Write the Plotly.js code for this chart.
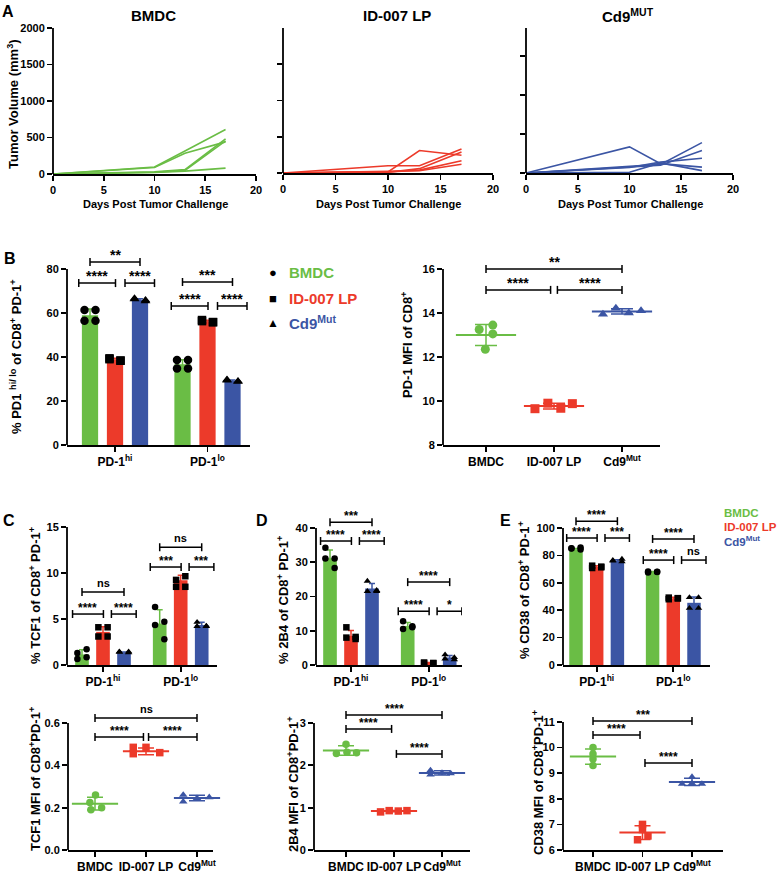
<!DOCTYPE html>
<html><head><meta charset="utf-8">
<script src="https://cdn.plot.ly/plotly-3.0.1.min.js"></script>
<style>html,body{margin:0;padding:0;background:#fff}#chart{width:780px;height:874px}</style>
</head><body><div id="chart"></div>
<script>
// ================= DATA =================
const tumorDays = [0, 10, 13, 17];
const tumorBMDC = [[0,95,316,610],[0,90,285,440],[0,30,60,480],[0,25,50,455],[0,20,40,80]];
const tumorLP   = [[0,15,310,245],[0,100,100,330],[0,10,60,290],[0,15,40,170],[0,20,30,120]];
const tumorCd9  = [[0,335,120,75],[0,90,110,390],[0,80,100,290],[0,70,140,190],[0,10,130,30]];

const subsetLabels = ['PD-1<sup>hi</sup>', 'PD-1<sup>lo</sup>'];
const armLabels = ['BMDC', 'ID-007 LP', 'Cd9<sup>Mut</sup>'];

// B left: % PD1 hi/lo of CD8+ PD-1+   (per arm: [hi, lo])
const pd1Mean_BMDC = [59.0, 36.7];
const pd1SD_BMDC   = [2.8, 2.1];
const pd1Pts_BMDC  = [[61.4,61.4,56.5,56.5],[38.6,38.6,34.8,34.8]];
const pd1Mean_LP   = [38.8, 56.2];
const pd1SD_LP     = [0.6, 0.5];
const pd1Pts_LP    = [[39.4,38.4,39.0,38.3],[56.8,55.8,56.3,55.9]];
const pd1Mean_Cd9  = [66.0, 29.2];
const pd1SD_Cd9    = [0.5, 0.4];
const pd1Pts_Cd9   = [[66.6,65.8,66.3,65.4],[29.7,29.0,29.4,28.8]];
const pd1Sig = ['****','****','**','****','****','***'];

// B right: PD-1 MFI of CD8+
const pd1Mfi_BMDC = [13.25, 13.45, 13.05, 12.35];
const pd1Mfi_LP   = [9.65, 9.90, 9.67, 9.88];
const pd1Mfi_Cd9  = [13.94, 14.22, 14.00, 14.10];
const pd1MfiMean  = [13.0, 9.77, 14.07];
const pd1MfiSD    = [0.48, 0.13, 0.12];
const pd1MfiSig   = ['****','****','**'];

// C top: % TCF1
const tcf1Mean_BMDC = [1.15, 4.5];
const tcf1SD_BMDC   = [0.5, 1.5];
const tcf1Pts_BMDC  = [[1.3,1.7,0.65,0.85],[6.3,4.7,4.35,2.8]];
const tcf1Mean_LP   = [3.6, 9.2];
const tcf1SD_LP     = [0.55, 0.55];
const tcf1Pts_LP    = [[4.1,4.1,3.1,3.1],[9.25,9.65,8.5,8.5]];
const tcf1Mean_Cd9  = [1.3, 4.35];
const tcf1SD_Cd9    = [0.12, 0.3];
const tcf1Pts_Cd9   = [[1.45,1.45,1.4,1.35],[4.65,4.2,4.2,4.25]];
const tcf1Sig = ['****','****','ns','***','***','ns'];

// D top: % 2B4
const twoB4Mean_BMDC = [31.2, 11.4];
const twoB4SD_BMDC   = [2.4, 1.0];
const twoB4Pts_BMDC  = [[34.2,31.1,31.1,28.3],[12.8,11.3,10.5,11.0]];
const twoB4Mean_LP   = [8.5, 0.6];
const twoB4SD_LP     = [1.6, 0.1];
const twoB4Pts_LP    = [[11.0,8.2,8.0,7.6],[0.7,0.6,0.6,0.5]];
const twoB4Mean_Cd9  = [22.3, 2.2];
const twoB4SD_Cd9    = [1.5, 0.6];
const twoB4Pts_Cd9   = [[24.5,21.8,21.5,21.5],[3.0,2.2,1.8,1.6]];
const twoB4Sig = ['****','****','***','****','*','****'];

// E top: % CD38
const cd38Mean_BMDC = [84.2, 67.8];
const cd38SD_BMDC   = [0.8, 0.4];
const cd38Pts_BMDC  = [[85.0,85.8,85.2,84.3],[68.2,67.8,67.6,68.0]];
const cd38Mean_LP   = [71.5, 48.6];
const cd38SD_LP     = [1.0, 0.8];
const cd38Pts_LP    = [[72.5,71.3,70.8,71.8],[49.2,48.8,48.0,48.6]];
const cd38Mean_Cd9  = [76.1, 45.4];
const cd38SD_Cd9    = [0.8, 4.3];
const cd38Pts_Cd9   = [[76.0,77.3,76.5,75.5],[49.3,49.3,41.5,41.5]];
const cd38Sig = ['****','***','****','****','ns','****'];

// C bottom: TCF1 MFI
const tcf1Mfi_BMDC = [0.26, 0.225, 0.20, 0.19];
const tcf1Mfi_LP   = [0.485, 0.485, 0.455, 0.46];
const tcf1Mfi_Cd9  = [0.26, 0.228, 0.245, 0.249];
const tcf1MfiMean  = [0.219, 0.466, 0.246];
const tcf1MfiSD    = [0.03, 0.016, 0.013];
const tcf1MfiSig   = ['****','****','ns'];

// D bottom: 2B4 MFI
const twoB4Mfi_BMDC = [2.50, 2.28, 2.31, 2.30];
const twoB4Mfi_LP   = [0.90, 0.93, 0.92, 0.93];
const twoB4Mfi_Cd9  = [1.88, 1.78, 1.82, 1.81];
const twoB4MfiMean  = [2.35, 0.92, 1.82];
const twoB4MfiSD    = [0.11, 0.015, 0.05];
const twoB4MfiSig   = ['****','****','****'];

// E bottom: CD38 MFI
const cd38Mfi_BMDC = [10.0, 9.75, 9.55, 9.3];
const cd38Mfi_LP   = [7.0, 6.8, 6.55, 6.4];
const cd38Mfi_Cd9  = [8.85, 8.58, 8.6, 8.58];
const cd38MfiMean  = [9.65, 6.68, 8.66];
const cd38MfiSD    = [0.3, 0.27, 0.14];
const cd38MfiSig   = ['****','****','***'];

// ================= PRESENTATION =================
const W = 780, H = 874;
const GREEN = '#6abd45', RED = '#ec3a2a', BLUE = '#3b55a4';
const ARM_COLORS = [GREEN, RED, BLUE];
const ARM_SYMBOLS = ['circle', 'square', 'triangle-up'];
const FONT = 'Liberation Sans, Arial, Helvetica, sans-serif';
const GROUP_GAP = 3.7;

const traces = [];
const layout = {
  width: W, height: H, margin: {l:0, r:0, t:0, b:0},
  paper_bgcolor: '#fff', plot_bgcolor: 'rgba(0,0,0,0)',
  showlegend: false, barmode: 'overlay',
  font: {family: FONT, color: '#000'},
  shapes: [], annotations: []
};

const panels = {
  a1:   {n:1,  L:53,  R:256, B:174, T:28,  yr:[0,2000], ytv:[0,500,1000,1500,2000], ylab:true},
  a2:   {n:2,  L:283, R:493, B:173, T:28,  yr:[0,2000], ytv:[0,500,1000,1500], ylab:false},
  a3:   {n:3,  L:526, R:733, B:173, T:28,  yr:[0,1860], ytv:[0,500,1000,1500], ylab:false},
  bBar: {n:4,  L:67,  R:250, B:445, T:269, yr:[0,80],  ytv:[0,20,40,60,80], pad:25, s0:90,  sp:25},
  bDot: {n:5,  L:443, R:660, B:445, T:269, yr:[8,16],  ytv:[8,10,12,14,16], pad:12, s0:486, sp:68},
  cBar: {n:6,  L:67,  R:217, B:665, T:527, yr:[0,15],  ytv:[0,5,10,15], pad:10, s0:82,  sp:21},
  dBar: {n:7,  L:316, R:462, B:665, T:528, yr:[0,40],  ytv:[0,10,20,30,40], pad:14, s0:330, sp:21},
  eBar: {n:8,  L:563, R:710, B:665, T:528, yr:[0,100], ytv:[0,20,40,60,80,100], pad:14, s0:576, sp:20.7},
  cDot: {n:9,  L:68,  R:213, B:850, T:723, yr:[0,0.6], ytv:[0,0.2,0.4,0.6], ytt:['0.0','0.2','0.4','0.6'], pad:12, s0:95, sp:51},
  dDot: {n:10, L:314, R:470, B:850, T:723, yr:[0,3],   ytv:[0,1,2,3], pad:14, s0:346, sp:48},
  eDot: {n:11, L:563, R:723, B:850, T:722, yr:[6,11],  ytv:[6,7,8,9,10,11], pad:8, s0:593, sp:49.5}
};

function sfx(n){ return n === 1 ? '' : String(n); }

function setupPanel(p, xr, xextra){
  const s = sfx(p.n);
  const pad = p.pad || 0;
  const yTop = p.yr[1] + pad * (p.yr[1] - p.yr[0]) / (p.B - p.T);
  const tick = {ticks:'outside', ticklen:5, tickwidth:1.8, tickcolor:'#000', showgrid:false, zeroline:false, fixedrange:true};
  layout['xaxis' + s] = Object.assign({domain:[p.L/W, p.R/W], range:xr, anchor:'y' + s, tickangle:0,
    showline:true, linewidth:1.8, linecolor:'#000', tickfont:{size:11, weight:'bold', family:FONT}}, tick, xextra);
  const ya = Object.assign({domain:[1 - p.B/H, 1 - (p.T - pad)/H], range:[p.yr[0], yTop], anchor:'x' + s,
    showline:false, tickvals:p.ytv, tickfont:{size:11, weight:'bold', family:FONT}}, tick);
  if (p.ytt) ya.ticktext = p.ytt;
  if (p.ylab === false) ya.showticklabels = false;
  layout['yaxis' + s] = ya;
  layout.shapes.push({type:'line', xref:'x' + s + ' domain', yref:'y' + s, x0:0, x1:0,
    y0:p.yr[0], y1:p.yr[1], line:{color:'#000', width:1.8}});
}

function bracket(p, x0, x1, y, label, fs){
  const s = sfx(p.n), xr = 'x' + s, yr = 'y' + s;
  const ln = {color:'#000', width:1.5};
  layout.shapes.push({type:'line', xref:xr, yref:yr, x0:x0, x1:x1, y0:y, y1:y, line:ln});
  [x0, x1].forEach(x => layout.shapes.push({type:'line', xref:xr, yref:yr, x0:x, x1:x,
    ysizemode:'pixel', yanchor:y, y0:-4, y1:4, line:ln}));
  layout.annotations.push({xref:xr, yref:yr, x:(x0 + x1)/2, y:y, text:label, showarrow:false,
    yanchor:'bottom', yshift: label === 'ns' ? 1 : -3, font:{size: label === 'ns' ? fs - 1 : fs, weight:'bold', family:FONT}});
}

// ---- A: tumor growth ----
function addTumor(p, series, color){
  setupPanel(p, [0, 20], {tickvals:[0,5,10,15,20]});
  const s = sfx(p.n);
  series.forEach(vals => traces.push({type:'scatter', mode:'lines', x:tumorDays, y:vals,
    xaxis:'x' + s, yaxis:'y' + s, cliponaxis:false, line:{color:color, width:1.6}}));
}
addTumor(panels.a1, tumorBMDC, GREEN);
addTumor(panels.a2, tumorLP, RED);
addTumor(panels.a3, tumorCd9, BLUE);

// ---- Bar panels ----
const BAR_JIT = [-0.22, 0.22, -0.22, 0.22];
function addBarPanel(p, means, sds, pts, sig, levels, msize, sfs){
  const xr = [(p.L - p.s0)/p.sp, (p.R - p.s0)/p.sp];
  setupPanel(p, xr, {tickvals:[1, GROUP_GAP + 1], ticktext:subsetLabels, tickfont:{size:12, weight:'bold', family:FONT}});
  const s = sfx(p.n);
  means.forEach((m, a) => {
    traces.push({type:'bar', x:m.map((_, g) => g*GROUP_GAP + a), y:m, width:0.65,
      xaxis:'x' + s, yaxis:'y' + s, marker:{color:ARM_COLORS[a], line:{width:0}},
      error_y:{type:'data', array:sds[a], visible:true, color:ARM_COLORS[a], thickness:1.5, width:3}});
  });
  pts.forEach((byGroup, a) => {
    const xs = [], ys = [];
    byGroup.forEach((vals, g) => vals.forEach((v, j) => { xs.push(g*GROUP_GAP + a + BAR_JIT[j]); ys.push(v); }));
    traces.push({type:'scatter', mode:'markers', x:xs, y:ys, xaxis:'x' + s, yaxis:'y' + s,
      cliponaxis:false, marker:{symbol:ARM_SYMBOLS[a], size:msize, color:'#000'}});
  });
  levels.forEach((lv, g) => {
    const b = g*GROUP_GAP;
    bracket(p, b - 0.45, b + 1.02, lv[0], sig[g*3], sfs);
    bracket(p, b + 1.4, b + 2.58, lv[0], sig[g*3 + 1], sfs);
    bracket(p, b, b + 2, lv[1], sig[g*3 + 2], sfs);
  });
}

addBarPanel(panels.bBar, [pd1Mean_BMDC, pd1Mean_LP, pd1Mean_Cd9], [pd1SD_BMDC, pd1SD_LP, pd1SD_Cd9],
  [pd1Pts_BMDC, pd1Pts_LP, pd1Pts_Cd9], pd1Sig, [[73.6, 83.2], [63.2, 74.1]], 8.5, 14);
addBarPanel(panels.cBar, [tcf1Mean_BMDC, tcf1Mean_LP, tcf1Mean_Cd9], [tcf1SD_BMDC, tcf1SD_LP, tcf1SD_Cd9],
  [tcf1Pts_BMDC, tcf1Pts_LP, tcf1Pts_Cd9], tcf1Sig, [[5.54, 7.93], [10.65, 12.8]], 6.5, 12);
addBarPanel(panels.dBar, [twoB4Mean_BMDC, twoB4Mean_LP, twoB4Mean_Cd9], [twoB4SD_BMDC, twoB4SD_LP, twoB4SD_Cd9],
  [twoB4Pts_BMDC, twoB4Pts_LP, twoB4Pts_Cd9], twoB4Sig, [[36.2, 41.7], [15.7, 24.2]], 6.5, 12);
addBarPanel(panels.eBar, [cd38Mean_BMDC, cd38Mean_LP, cd38Mean_Cd9], [cd38SD_BMDC, cd38SD_LP, cd38SD_Cd9],
  [cd38Pts_BMDC, cd38Pts_LP, cd38Pts_Cd9], cd38Sig, [[92.7, 105], [76.6, 92]], 6.5, 12);

// ---- Dot panels ----
function addDotPanel(p, pts, means, sds, sig, lv, jit, msize, meanLen, capW, sfs){
  const xr = [(p.L - p.s0)/p.sp, (p.R - p.s0)/p.sp];
  setupPanel(p, xr, {tickvals:[0,1,2], ticktext:armLabels, tickfont:{size:12, weight:'bold', family:FONT}});
  const s = sfx(p.n);
  pts.forEach((vals, a) => {
    traces.push({type:'scatter', mode:'markers', x:[a], y:[means[a]], xaxis:'x' + s, yaxis:'y' + s, cliponaxis:false,
      marker:{symbol:'line-ew', size:meanLen, color:ARM_COLORS[a], line:{width:2, color:ARM_COLORS[a]}},
      error_y:{type:'data', array:[sds[a]], visible:true, color:ARM_COLORS[a], thickness:1.5, width:capW}});
    traces.push({type:'scatter', mode:'markers', x:vals.map((_, j) => a + jit[a][j]), y:vals,
      xaxis:'x' + s, yaxis:'y' + s, cliponaxis:false,
      marker:{symbol:ARM_SYMBOLS[a], size:msize, color:ARM_COLORS[a]}});
  });
  bracket(p, 0, 0.95, lv[0], sig[0], sfs);
  bracket(p, 1.05, 2, lv[1], sig[1], sfs);
  bracket(p, 0, 2, lv[2], sig[2], sfs);
}

addDotPanel(panels.bDot, [pd1Mfi_BMDC, pd1Mfi_LP, pd1Mfi_Cd9], pd1MfiMean, pd1MfiSD, pd1MfiSig,
  [15.05, 15.05, 16.0], [[-0.1,0.1,0.1,-0.01],[-0.28,-0.09,0.1,0.27],[-0.28,-0.09,0.1,0.28]], 9, 43, 11, 14);
addDotPanel(panels.cDot, [tcf1Mfi_BMDC, tcf1Mfi_LP, tcf1Mfi_Cd9], tcf1MfiMean, tcf1MfiSD, tcf1MfiSig,
  [0.534, 0.534, 0.624], [[0.01,-0.1,0.13,-0.08],[-0.25,0,-0.25,0.27],[-0.27,-0.27,0,0.24]], 7.5, 33, 8, 12);
addDotPanel(panels.dDot, [twoB4Mfi_BMDC, twoB4Mfi_LP, twoB4Mfi_Cd9], twoB4MfiMean, twoB4MfiSD, twoB4MfiSig,
  [2.86, 2.27, 3.19], [[0,-0.2,0.02,0.22],[-0.28,-0.1,0.09,0.27],[-0.24,-0.24,0,0.18]], 7.5, 33, 8, 12);
addDotPanel(panels.eDot, [cd38Mfi_BMDC, cd38Mfi_LP, cd38Mfi_Cd9], cd38MfiMean, cd38MfiSD, cd38MfiSig,
  [10.49, 9.4, 11.04], [[0,0,0,0],[0,0,0.11,-0.1],[0,-0.2,0,0.2]], 7.5, 33, 8, 12);

// ---- Text ----
function txt(x, y, text, size, extra){
  layout.annotations.push(Object.assign({xref:'paper', yref:'paper', x:x/W, y:1 - y/H, text:text,
    showarrow:false, xanchor:'center', yanchor:'middle',
    font:{size:size, weight:'bold', family:FONT, color:(extra && extra.color) || '#000'}}, extra ? {xanchor: extra.xanchor || 'center', textangle: extra.textangle || 0} : {}));
}
// panel letters
txt(8, 12, 'A', 16); txt(10, 258, 'B', 16); txt(9, 520, 'C', 16); txt(262, 520, 'D', 16); txt(505, 520, 'E', 16);
// A titles
txt(153, 15, 'BMDC', 15); txt(397, 15, 'ID-007 LP', 15); txt(628, 15, 'Cd9<sup>MUT</sup>', 15);
// A x titles
txt(155, 204, 'Days Post Tumor Challenge', 11); txt(388, 204, 'Days Post Tumor Challenge', 11); txt(630, 204, 'Days Post Tumor Challenge', 11);
// y titles
const rot = {textangle:-90};
txt(13, 104, 'Tumor Volume (mm<sup>3</sup>)', 13, rot);
txt(16, 357, '% PD1 <sup>hi/ lo</sup> of CD8<sup>+</sup> PD-1<sup>+</sup>', 13, rot);
txt(407, 345, 'PD-1 MFI of CD8<sup>+</sup>', 13, rot);
txt(35, 596, '% TCF1 of CD8<sup>+</sup> PD-1<sup>+</sup>', 13, rot);
txt(283, 600, '% 2B4 of CD8<sup>+</sup> PD-1<sup>+</sup>', 13, rot);
txt(524, 590, '% CD38 of CD8<sup>+</sup> PD-1<sup>+</sup>', 13, rot);
txt(35, 779, 'TCF1 MFI of CD8<sup>+</sup>PD-1<sup>+</sup>', 13, rot);
txt(293, 784, '2B4 MFI of CD8<sup>+</sup>PD-1<sup>+</sup>', 13, rot);
txt(538, 783, 'CD38 MFI of CD8<sup>+</sup>PD-1<sup>+</sup>', 13, rot);
// legend B
txt(273, 272, '●', 13); txt(273, 298, '■', 13); txt(273, 323, '▲', 12);
txt(287, 272, armLabels[0], 15, {xanchor:'left', color:GREEN});
txt(287, 298, armLabels[1], 15, {xanchor:'left', color:RED});
txt(287, 322, armLabels[2], 15, {xanchor:'left', color:BLUE});
// legend E
txt(722, 513, armLabels[0], 11.5, {xanchor:'left', color:GREEN});
txt(722, 527, armLabels[1], 11.5, {xanchor:'left', color:RED});
txt(722, 541, armLabels[2], 11.5, {xanchor:'left', color:BLUE});

Plotly.newPlot('chart', traces, layout, {staticPlot:true, displayModeBar:false});
</script>
</body></html>
